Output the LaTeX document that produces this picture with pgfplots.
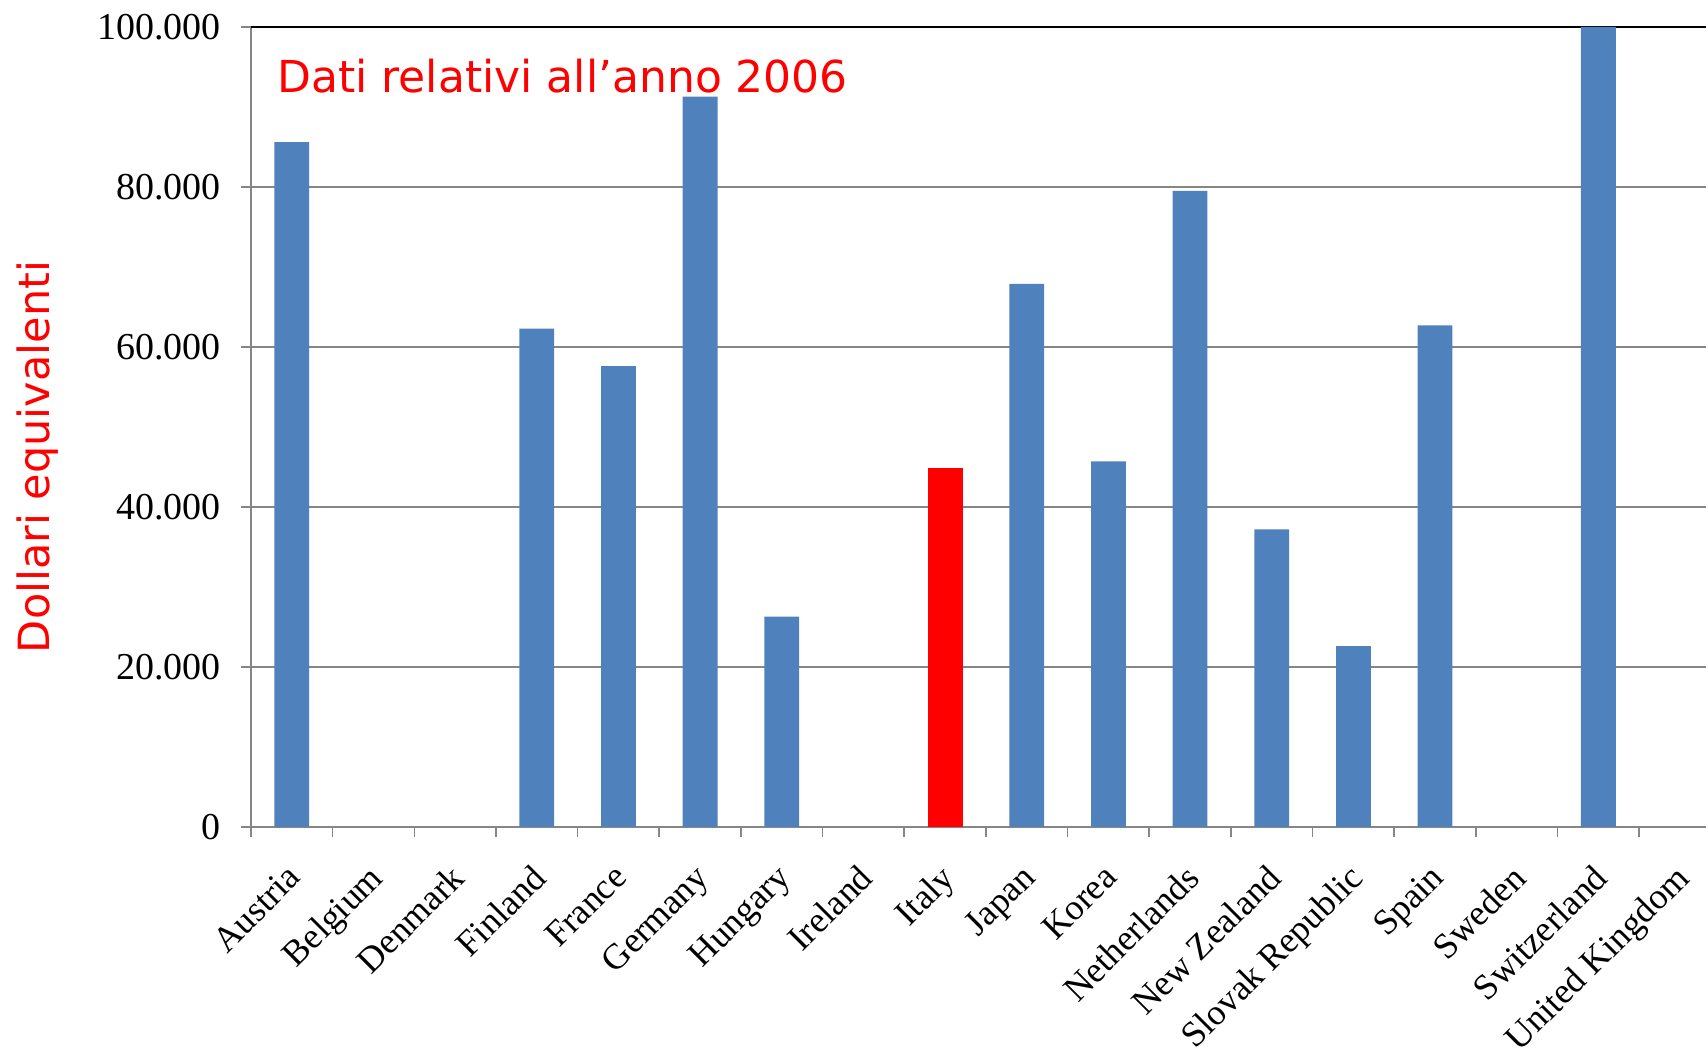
\documentclass[border=0pt]{standalone}
\usepackage{pgfplots}
\pgfplotsset{compat=1.18}
\usepackage{fontspec}
\setmainfont{Liberation Serif}
\newfontfamily\comic{DejaVu Sans}
\definecolor{barblue}{HTML}{4F81BD}
\definecolor{axgray}{HTML}{868686}
\begin{document}
\begin{tikzpicture}
\begin{axis}[
  name=ax, at={(0,0)}, anchor=south west,
  scale only axis, width=727.5pt, height=400pt,
  xmin=-0.5, xmax=17.318, ymin=0, ymax=100000,
  axis x line*=bottom, axis y line*=left,
  x axis line style={-, draw=axgray, line width=1pt},
  y axis line style={-, draw=axgray, line width=1pt},
  tick align=outside, major tick length=5pt,
  xtick={0,...,17},
  xticklabels={Austria,Belgium,Denmark,Finland,France,Germany,Hungary,Ireland,Italy,Japan,Korea,Netherlands,New Zealand,Slovak Republic,Spain,Sweden,Switzerland,United Kingdom},
  x tick style={draw=none},
  extra x ticks={-0.5,0.5,...,16.5},
  extra x tick labels={},
  extra x tick style={x tick style={draw=axgray, line width=0.8pt}},
  xticklabel style={xshift=-3.3pt, yshift=-12.6pt, rotate=45, anchor=north east, inner sep=0pt,
    font=\fontsize{18pt}{21pt}\selectfont},
  ytick={0,20000,...,100000},
  y tick style={draw=axgray, line width=0.8pt},
  ymajorgrids, major grid style={draw=axgray, line width=0.65pt},
  extra y ticks={100000}, extra y tick labels={},
  extra y tick style={grid=major, major grid style={draw=black, line width=0.9pt}, y tick style={draw=none}},
  scaled y ticks=false,
  /pgf/number format/.cd, fixed, 1000 sep={.}, assume math mode=true, /pgfplots/.cd,
  yticklabel style={inner sep=0pt, xshift=-10pt, font=\fontsize{19pt}{22pt}\selectfont},
  ylabel={Dollari equivalenti},
  ylabel style={at={(axis description cs:-0.1464,0.4625)}, anchor=center, text=red,
    font=\comic\fontsize{21.5pt}{25pt}\selectfont},
  ybar, bar width=17.4pt, bar shift=0pt,
]
\addplot[fill=barblue, draw=none] coordinates {
  (0,85600) (3,62300) (4,57600) (5,91300) (6,26300)
  (9,67900) (10,45700) (11,79500) (12,37200) (13,22600) (14,62700) (16,100000)
};
\addplot[fill=red, draw=none] coordinates {(8,44900)};
\node[anchor=base west, inner sep=0pt, text=red, font=\comic\fontsize{22pt}{26pt}\selectfont]
  at (axis description cs:0.0179,0.9175) {Dati relativi all’anno 2006};
\end{axis}
\pgfresetboundingbox
\path[use as bounding box] ([shift={(-125.5pt,-112.5pt)}]ax.south west) rectangle ([shift={(0pt,13.5pt)}]ax.north east);
\end{tikzpicture}
\end{document}
